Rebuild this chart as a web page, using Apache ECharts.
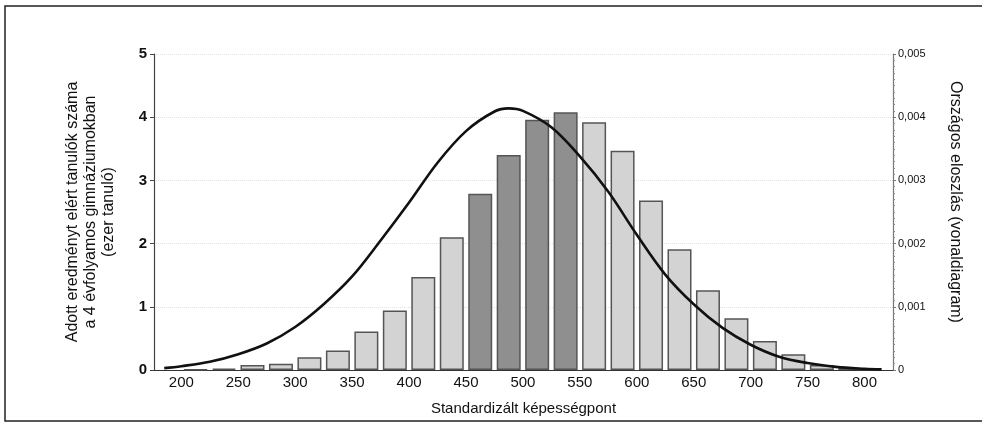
<!DOCTYPE html>
<html>
<head>
<meta charset="utf-8">
<script src="https://cdn.jsdelivr.net/npm/echarts@6/dist/echarts.min.js"></script>
<style>
html,body{margin:0;padding:0;background:#fff;}
#c{width:982px;height:425px;}
</style>
</head>
<body>
<div id="c"></div>
<script>
// ---- data ----
var binCenters = [212.5, 237.5, 262.5, 287.5, 312.5, 337.5, 362.5, 387.5, 412.5, 437.5, 462.5, 487.5,
                  512.5, 537.5, 562.5, 587.5, 612.5, 637.5, 662.5, 687.5, 712.5, 737.5, 762.5, 787.5];
var studentCounts = [0.01, 0.02, 0.08, 0.10, 0.20, 0.31, 0.61, 0.94, 1.47, 2.10, 2.79, 3.40,
                     3.96, 4.08, 3.92, 3.47, 2.68, 1.91, 1.26, 0.82, 0.46, 0.25, 0.08, 0.03];
var curveX = [185, 200, 225, 250, 275, 300, 325, 350, 375, 400, 425, 450, 475, 487.5,
              500, 525, 550, 575, 600, 625, 650, 675, 700, 725, 750, 775, 800, 815];
var curveY = [0.00003, 0.00006, 0.00013, 0.00025, 0.00042, 0.00068, 0.00104, 0.00148, 0.00205, 0.00265,
              0.00328, 0.00378, 0.00409, 0.00414, 0.00410, 0.00384, 0.00338, 0.00282, 0.00214, 0.00151,
              0.00104, 0.00067, 0.00040, 0.00021, 0.00011, 0.00005, 0.00002, 0.00001];
var xTickLabels = [200, 250, 300, 350, 400, 450, 500, 550, 600, 650, 700, 750, 800];
var darkBins = [462.5, 487.5, 512.5, 537.5];

var font = '"Liberation Sans", Arial, sans-serif';
var barData = binCenters.map(function (x, i) {
  var dark = darkBins.indexOf(x) >= 0;
  return { value: [x, studentCounts[i]], itemStyle: { color: dark ? '#8f8f8f' : '#d3d3d3' } };
});
var lineData = curveX.map(function (x, i) { return [x, curveY[i]]; });

var chart = echarts.init(document.getElementById('c'), null, { renderer: 'canvas' });
chart.setOption({
  animation: false,
  backgroundColor: '#fff',
  textStyle: { fontFamily: font },
  grid: { left: 154, right: 89, top: 54, bottom: 55, containLabel: false },
  graphic: [{
    type: 'rect', shape: { x: 5, y: 6, width: 1000, height: 415 },
    style: { fill: 'none', stroke: '#222', lineWidth: 1.5 }, silent: true, z: -1
  }],
  xAxis: {
    type: 'value', min: 176, max: 825,
    name: 'Standardizált képességpont', nameLocation: 'middle', nameGap: 31,
    nameTextStyle: { fontSize: 15, color: '#111', fontFamily: font },
    axisLine: { show: true, lineStyle: { color: '#333', width: 1.2 } },
    axisTick: { show: false },
    axisLabel: { customValues: xTickLabels, fontSize: 15, color: '#111', margin: 5, fontFamily: font },
    splitLine: { show: false }
  },
  yAxis: [{
    type: 'value', min: 0, max: 5, interval: 1, position: 'left',
    name: 'Adott eredményt elért tanulók száma\na 4 évfolyamos gimnáziumokban\n(ezer tanuló)',
    nameLocation: 'middle', nameGap: 36,
    nameTextStyle: { fontSize: 16, color: '#111', lineHeight: 18, align: 'center', fontFamily: font },
    axisLine: { show: true, lineStyle: { color: '#444', width: 1.2 } },
    axisTick: { show: true, length: 4, lineStyle: { color: '#444' } },
    axisLabel: { fontSize: 15, color: '#111', margin: 7, fontWeight: 'bold', fontFamily: font },
    splitLine: { show: true, lineStyle: { color: '#e2e2e2', type: 'dotted', width: 1 } }
  }, {
    type: 'value', min: 0, max: 0.005, interval: 0.001, position: 'right',
    name: 'Országos eloszlás (vonaldiagram)', nameLocation: 'middle', nameGap: 54, nameRotate: -90,
    nameTextStyle: { fontSize: 16, color: '#111', fontFamily: font, padding: [0, 20, 0, 0] },
    axisLine: { show: true, lineStyle: { color: '#777', width: 1.2 } },
    axisTick: { show: true, length: 3, lineStyle: { color: '#777' } },
    minorTick: { show: true, splitNumber: 10, length: 2, lineStyle: { color: '#888' } },
    axisLabel: {
      fontSize: 11, color: '#111', margin: 5, fontFamily: font,
      formatter: function (v) { return v === 0 ? '0' : v.toFixed(3).replace('.', ','); }
    },
    splitLine: { show: false }
  }],
  series: [{
    type: 'bar', xAxisIndex: 0, yAxisIndex: 0, barWidth: 24,
    data: barData,
    itemStyle: { borderColor: '#555', borderWidth: 1.5 }
  }, {
    type: 'line', xAxisIndex: 0, yAxisIndex: 1, smooth: 0.35, showSymbol: false, symbol: 'none',
    data: lineData,
    lineStyle: { color: '#111', width: 2.6 }, z: 5
  }]
});
</script>
</body>
</html>
